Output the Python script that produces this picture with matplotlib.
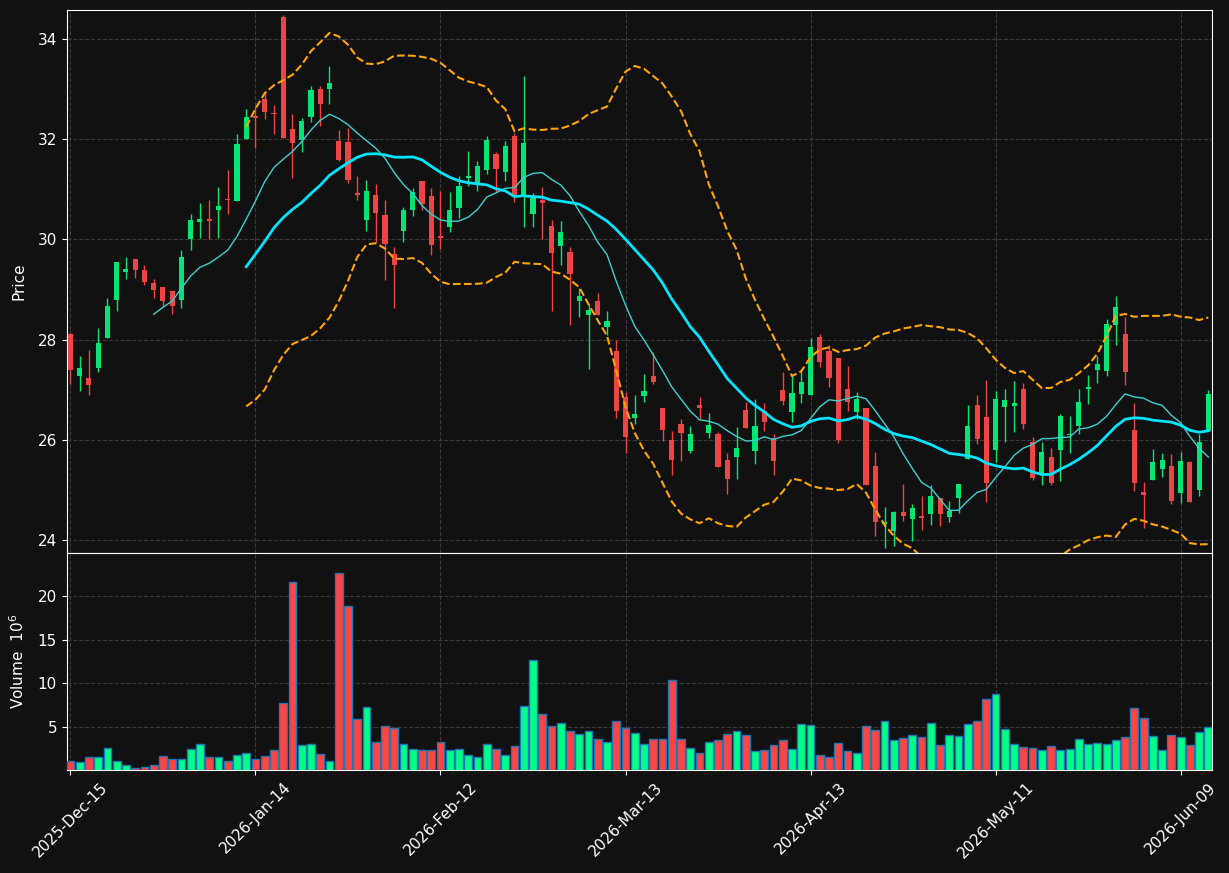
import numpy as np
import pandas as pd
import matplotlib
matplotlib.use("Agg")
import matplotlib.pyplot as plt

# daily OHLC (124 trading days from 2025-12-15)
opens = [28.12, 27.28, 27.23, 27.43, 28.03, 28.80, 29.36, 29.62, 29.40, 29.14,
         29.06, 28.98, 28.80, 30.00, 30.34, 30.40, 30.59, 30.80, 30.77, 32.01,
         32.45, 32.80, 32.52, 34.45, 32.20, 31.98, 32.45, 33.00, 33.00, 31.96,
         31.94, 30.92, 30.39, 30.88, 30.48, 29.71, 30.16, 30.59, 31.16, 30.86,
         30.06, 30.24, 30.62, 31.22, 31.12, 31.39, 31.70, 31.35, 32.06, 30.88,
         30.50, 30.78, 30.26, 29.86, 29.74, 28.78, 28.50, 28.78, 28.26, 27.77,
         26.86, 26.44, 26.88, 27.27, 26.63, 25.99, 26.31, 25.77, 26.70, 26.14,
         26.11, 25.59, 25.66, 26.59, 25.78, 26.57, 26.03, 26.99, 26.56, 26.92,
         26.90, 28.05, 27.77, 27.64, 27.02, 26.56, 26.63, 25.47, 24.31, 24.17,
         24.55, 24.42, 24.47, 24.51, 24.84, 24.45, 24.84, 25.62, 26.70, 26.45,
         25.80, 26.65, 26.68, 27.02, 25.95, 25.33, 25.65, 25.80, 26.09, 26.28,
         27.02, 27.40, 27.38, 28.30, 28.12, 26.19, 24.95, 25.20, 25.41, 25.48,
         24.93, 25.55, 25.00, 26.18]
closes = [27.40, 27.43, 27.09, 27.93, 28.67, 29.56, 29.42, 29.40, 29.16, 29.00,
          28.78, 28.68, 29.66, 30.38, 30.40, 30.37, 30.66, 30.78, 31.90, 32.44,
          32.43, 32.55, 32.50, 32.02, 31.93, 32.36, 32.98, 32.71, 33.12, 31.59,
          31.19, 30.89, 30.96, 30.52, 29.91, 29.50, 30.58, 30.94, 30.71, 29.88,
          30.02, 30.58, 31.06, 31.27, 31.46, 31.98, 31.41, 31.86, 30.85, 31.92,
          30.82, 30.73, 29.72, 30.14, 29.31, 28.88, 28.59, 28.50, 28.37, 26.58,
          26.05, 26.51, 26.97, 27.16, 26.20, 25.60, 26.14, 26.11, 26.64, 26.29,
          25.46, 25.22, 25.83, 26.24, 26.27, 26.36, 25.57, 26.78, 26.93, 27.16,
          27.85, 27.56, 27.24, 26.00, 26.76, 26.81, 25.09, 24.36, 24.35, 24.55,
          24.47, 24.63, 24.43, 24.88, 24.51, 24.58, 25.11, 26.27, 26.02, 25.14,
          26.81, 26.79, 26.74, 26.32, 25.24, 25.75, 25.14, 26.47, 26.11, 26.75,
          27.05, 27.52, 28.32, 28.66, 27.36, 25.14, 24.90, 25.55, 25.60, 24.77,
          25.58, 24.75, 25.95, 26.91]
highs = [28.14, 27.67, 27.79, 28.23, 28.83, 29.56, 29.65, 29.62, 29.50, 29.21,
         29.06, 28.98, 29.78, 30.51, 30.72, 30.78, 31.05, 31.38, 32.10, 32.61,
         32.66, 32.95, 32.69, 34.48, 32.50, 32.43, 33.07, 33.06, 33.46, 32.19,
         32.22, 31.26, 31.19, 31.11, 30.79, 29.84, 30.65, 31.03, 31.16, 31.03,
         30.96, 30.95, 31.26, 31.77, 31.56, 32.06, 31.75, 31.97, 32.13, 33.26,
         30.92, 31.05, 30.38, 30.36, 29.85, 29.04, 28.69, 28.93, 28.57, 28.00,
         26.95, 26.90, 27.31, 27.75, 26.64, 26.17, 26.42, 26.28, 26.86, 26.53,
         26.15, 25.73, 26.26, 26.75, 26.81, 26.73, 26.12, 27.35, 27.31, 27.38,
         28.04, 28.11, 27.89, 27.64, 27.47, 26.95, 26.63, 25.76, 24.65, 24.58,
         25.12, 24.71, 24.87, 25.10, 24.84, 24.77, 25.11, 26.69, 26.89, 27.20,
         26.98, 27.02, 27.17, 27.14, 26.05, 25.96, 25.84, 26.51, 26.47, 27.02,
         27.29, 27.68, 28.41, 28.87, 28.46, 26.74, 25.16, 25.82, 25.74, 25.71,
         25.76, 25.57, 26.12, 27.00]
lows = [27.12, 26.98, 26.90, 27.36, 28.03, 28.58, 29.22, 29.24, 29.10, 28.83,
        28.65, 28.51, 28.63, 29.79, 30.03, 30.01, 30.03, 30.50, 30.77, 32.01,
        31.83, 32.41, 32.11, 32.02, 31.23, 31.75, 32.34, 32.27, 32.70, 31.56,
        31.12, 30.78, 30.17, 29.94, 29.19, 28.63, 29.94, 30.47, 30.59, 29.69,
        29.80, 30.15, 30.43, 31.07, 30.97, 31.30, 30.95, 31.17, 30.75, 30.25,
        30.25, 30.01, 28.58, 29.50, 28.29, 28.45, 27.41, 28.50, 28.10, 26.44,
        25.73, 26.32, 26.76, 27.12, 25.97, 25.30, 25.58, 25.73, 26.42, 26.04,
        25.46, 24.91, 25.22, 26.24, 25.51, 26.18, 25.30, 26.70, 26.35, 26.73,
        26.90, 27.45, 27.06, 25.94, 26.58, 26.42, 25.09, 24.08, 23.83, 23.88,
        24.38, 23.97, 24.20, 24.30, 24.27, 24.36, 24.54, 25.62, 25.92, 24.76,
        25.55, 25.95, 26.15, 26.22, 25.20, 25.10, 25.10, 25.18, 25.74, 26.11,
        26.72, 27.14, 27.28, 27.90, 27.09, 24.98, 24.23, 25.20, 25.26, 24.72,
        24.73, 24.75, 24.87, 26.18]
# volume in millions
volumes = [1.18, 0.99, 1.64, 1.64, 2.67, 1.18, 0.73, 0.38, 0.50, 0.73,
           1.76, 1.41, 1.41, 2.48, 3.05, 1.56, 1.64, 1.18, 1.87, 2.10,
           1.41, 1.76, 2.37, 7.75, 21.60, 3.02, 3.13, 1.91, 1.18, 22.63,
           18.82, 5.92, 7.29, 3.28, 5.11, 4.89, 3.05, 2.48, 2.37, 2.37,
           3.28, 2.37, 2.48, 1.79, 1.64, 3.05, 2.56, 1.79, 2.82, 7.40,
           12.67, 6.49, 5.11, 5.46, 4.54, 4.20, 4.54, 3.63, 3.28, 5.69,
           4.89, 4.31, 3.05, 3.63, 3.63, 10.38, 3.63, 2.60, 2.02, 3.28,
           3.51, 4.20, 4.54, 4.08, 2.25, 2.37, 2.94, 3.51, 2.48, 5.34,
           5.23, 1.79, 1.56, 3.17, 2.25, 2.02, 5.11, 4.66, 5.69, 3.51,
           3.74, 4.08, 3.85, 5.46, 2.94, 4.08, 3.97, 5.34, 5.69, 8.21,
           8.78, 4.77, 3.05, 2.71, 2.60, 2.37, 2.82, 2.37, 2.48, 3.63,
           3.05, 3.17, 3.05, 3.51, 3.85, 7.18, 6.03, 3.97, 2.37, 4.08,
           3.85, 2.94, 4.43, 5.00]

holidays = ["2025-12-25", "2026-01-01", "2026-01-19", "2026-02-16",
            "2026-04-03", "2026-05-25"]
dates = pd.bdate_range("2025-12-15", periods=len(closes), freq="C", holidays=holidays)

bg = "#111111"
up_c = "#00e676"
dn_c = "#ef4444"
vup_c = "#00ff88"
vdn_c = "#ff4444"

o = np.array(opens)
c = np.array(closes)
h = np.array(highs)
l = np.array(lows)
v = np.array(volumes)
x = np.arange(len(c))
up = c >= o

cs = pd.Series(closes)
ma10 = cs.rolling(10).mean()
ma20 = cs.rolling(20).mean()
sd20 = cs.rolling(20).std(ddof=0)
bb_up = ma20 + 2 * sd20
bb_lo = ma20 - 2 * sd20

fig = plt.figure(figsize=(12.29, 8.73), dpi=100, facecolor=bg)
ax1 = fig.add_axes([0.0543, 0.3666, 0.9319, 0.6219])
ax2 = fig.add_axes([0.0543, 0.118, 0.9319, 0.2486], sharex=ax1)

for ax in (ax1, ax2):
    ax.set_facecolor(bg)
    for s in ax.spines.values():
        s.set_color("white")
    ax.tick_params(colors="white", labelsize=11)
    ax.grid(True, color="#3a3a3a", linestyle="--", linewidth=0.8)
    ax.set_axisbelow(True)

# candles
cols = np.where(up, up_c, dn_c)
ax1.vlines(x, l, h, colors=cols, linewidth=1.0, zorder=2)
body_lo = np.minimum(o, c)
body_h = np.maximum(np.abs(c - o), 0.03)
ax1.bar(x, body_h, bottom=body_lo, width=0.55, color=cols, linewidth=0, zorder=3)

ax1.plot(x, ma10, color="#3ccfcf", linewidth=1.0, zorder=4)
ax1.plot(x, ma20, color="#00e5ff", linewidth=2.0, zorder=4)
ax1.plot(x, bb_up, color="#ffa500", linewidth=1.5, linestyle="--", zorder=4)
ax1.plot(x, bb_lo, color="#ffa500", linewidth=1.5, linestyle="--", zorder=4)

rng = h.max() - l.min()
ax1.set_ylim(l.min() - 0.009 * rng, h.max() + 0.01 * rng)
ax1.set_ylabel("Price", color="white", fontsize=11, labelpad=8)
ax1.tick_params(labelbottom=False)

# volume
vcols = np.where(up, vup_c, vdn_c)
ax2.bar(x, v, width=0.85, color=vcols, edgecolor="#1f77b4", linewidth=1.0, zorder=3)
ax2.set_ylim(0.3 * v.min(), 1.1 * v.max())
ax2.set_yticks([5, 10, 15, 20])
ax2.set_ylabel("Volume  $10^{6}$", color="white", fontsize=11, labelpad=8)

ax2.set_xlim(-0.4, len(c) - 1 + 0.4)
tick_idx = list(range(0, len(c), 20))
ax2.set_xticks(tick_idx)
ax2.set_xticklabels([dates[i].strftime("%Y-%b-%d") for i in tick_idx], rotation=45)

fig.savefig("out.png", dpi=100, facecolor=bg)
